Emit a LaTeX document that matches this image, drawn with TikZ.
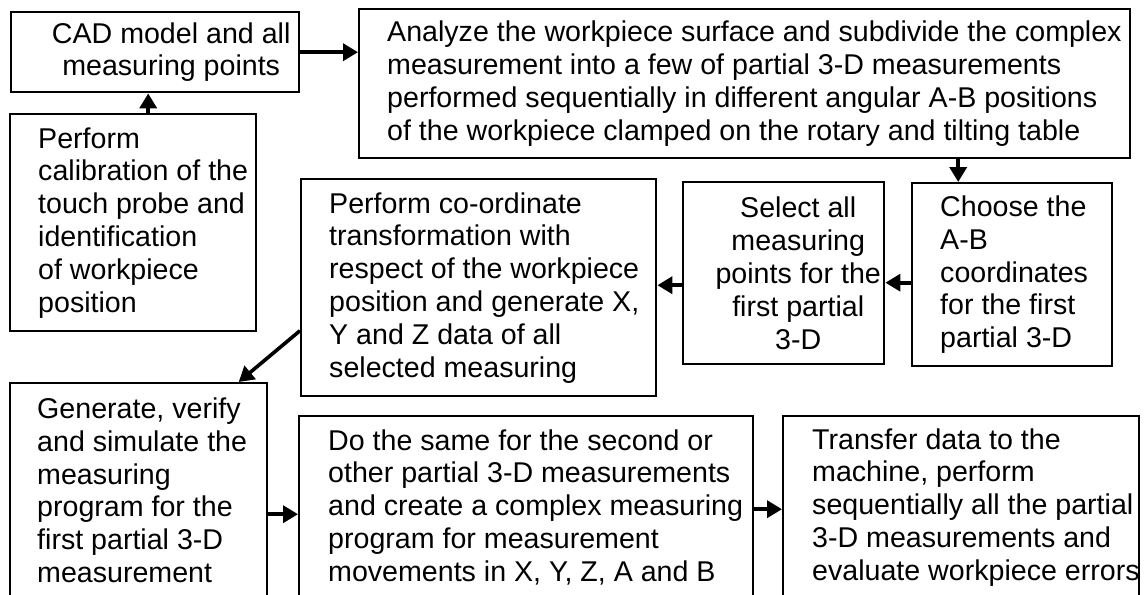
\documentclass[tikz,border=0pt]{standalone}
\usepackage{fontspec}
\setmainfont{Liberation Sans}
\usetikzlibrary{arrows.meta}

\begin{document}
\begin{tikzpicture}[x=1pt, y=-1pt,
    box/.style={draw, line width=2.4pt, inner sep=0pt, anchor=north west},
    txt/.style={inner sep=0pt, align=left, anchor=west, font=\fontsize{28.6}{32.8}\selectfont},
    ctxt/.style={inner sep=0pt, align=center, font=\fontsize{28.6}{32.8}\selectfont},
    flow/.style={line width=3.6pt, -{Triangle[length=15pt,width=17pt]}}]
    \clip (0,0) rectangle (1145,594);

    % CAD model
    \node[box, minimum width=288pt, minimum height=80pt] (cad) at (10,11) {};
    \node[ctxt] at ([xshift=16pt]cad.center) {CAD model and all\\measuring points};

    % Surface analysis
    \node[box, minimum width=771pt, minimum height=149pt] (analyze) at (358,8) {};
    \node[txt] at ([xshift=29pt]analyze.west) {Analyze the workpiece surface and subdivide the complex\\
        measurement into a few of partial 3-D measurements\\
        performed sequentially in different angular A-B positions\\
        of the workpiece clamped on the rotary and tilting table};

    % Calibration
    \node[box, minimum width=246pt, minimum height=217pt] (calib) at (9,113) {};
    \node[txt] at ([xshift=29pt]calib.west) {Perform\\calibration of the\\touch probe and\\identification\\of workpiece\\position};

    % Co-ordinate transformation
    \node[box, minimum width=355pt, minimum height=217pt] (trans) at (300,178) {};
    \node[txt] at ([xshift=29pt]trans.west) {Perform co-ordinate\\transformation with\\respect of the workpiece\\position and generate X,\\Y and Z data of all\\selected measuring};

    % Point selection
    \node[box, minimum width=201pt, minimum height=182pt] (select) at (682,181) {};
    \node[ctxt] at ([xshift=14.5pt]select.center) {Select all\\measuring\\points for the\\first partial\\3-D};

    % A-B coordinates
    \node[box, minimum width=200pt, minimum height=183pt] (choose) at (911,182) {};
    \node[txt] at ([xshift=29pt]choose.west) {Choose the\\A-B\\coordinates\\for the first\\partial 3-D};

    % Program generation
    \node[box, minimum width=257pt, minimum height=214pt] (generate) at (9,382) {};
    \node[txt] at ([xshift=28pt]generate.west) {Generate, verify\\and simulate the\\measuring\\program for the\\first partial 3-D\\measurement};

    % Other partial measurements
    \node[box, minimum width=454pt, minimum height=182pt] (same) at (298,415) {};
    \node[txt] at ([xshift=30pt]same.west) {Do the same for the second or\\other partial 3-D measurements\\and create a complex measuring\\program for measurement\\movements in X, Y, Z, A and B};

    % Transfer to machine
    \node[box, minimum width=356pt, minimum height=182pt] (transfer) at (782,415) {};
    \node[txt] at ([xshift=30pt]transfer.west) {Transfer data to the\\machine, perform\\sequentially all the partial\\3-D measurements and\\evaluate workpiece errors};

    % arrows
    \draw[flow] (cad.east) -- (cad.east -| analyze.west);
    \draw[flow] ([xshift=15pt]calib.north) -- ([xshift=15pt]calib.north |- cad.south);
    \draw[flow] ([xshift=-54pt]choose.north |- analyze.south) -- ([xshift=-54pt]choose.north);
    \draw[flow] ([yshift=-8pt]choose.west) -- ([yshift=-8pt]choose.west -| select.east);
    \draw[flow] ([yshift=-12pt]select.west) -- ([yshift=-12pt]select.west -| trans.east);
    \draw[flow] ([yshift=-43pt]trans.west) -- ([xshift=100pt]generate.north);
    \draw[flow] ([yshift=-24pt]generate.east) -- ([yshift=-24pt]generate.east -| same.west);
    \draw[flow] ([yshift=-2pt]same.east) -- ([yshift=-2pt]same.east -| transfer.west);
\end{tikzpicture}
\end{document}
